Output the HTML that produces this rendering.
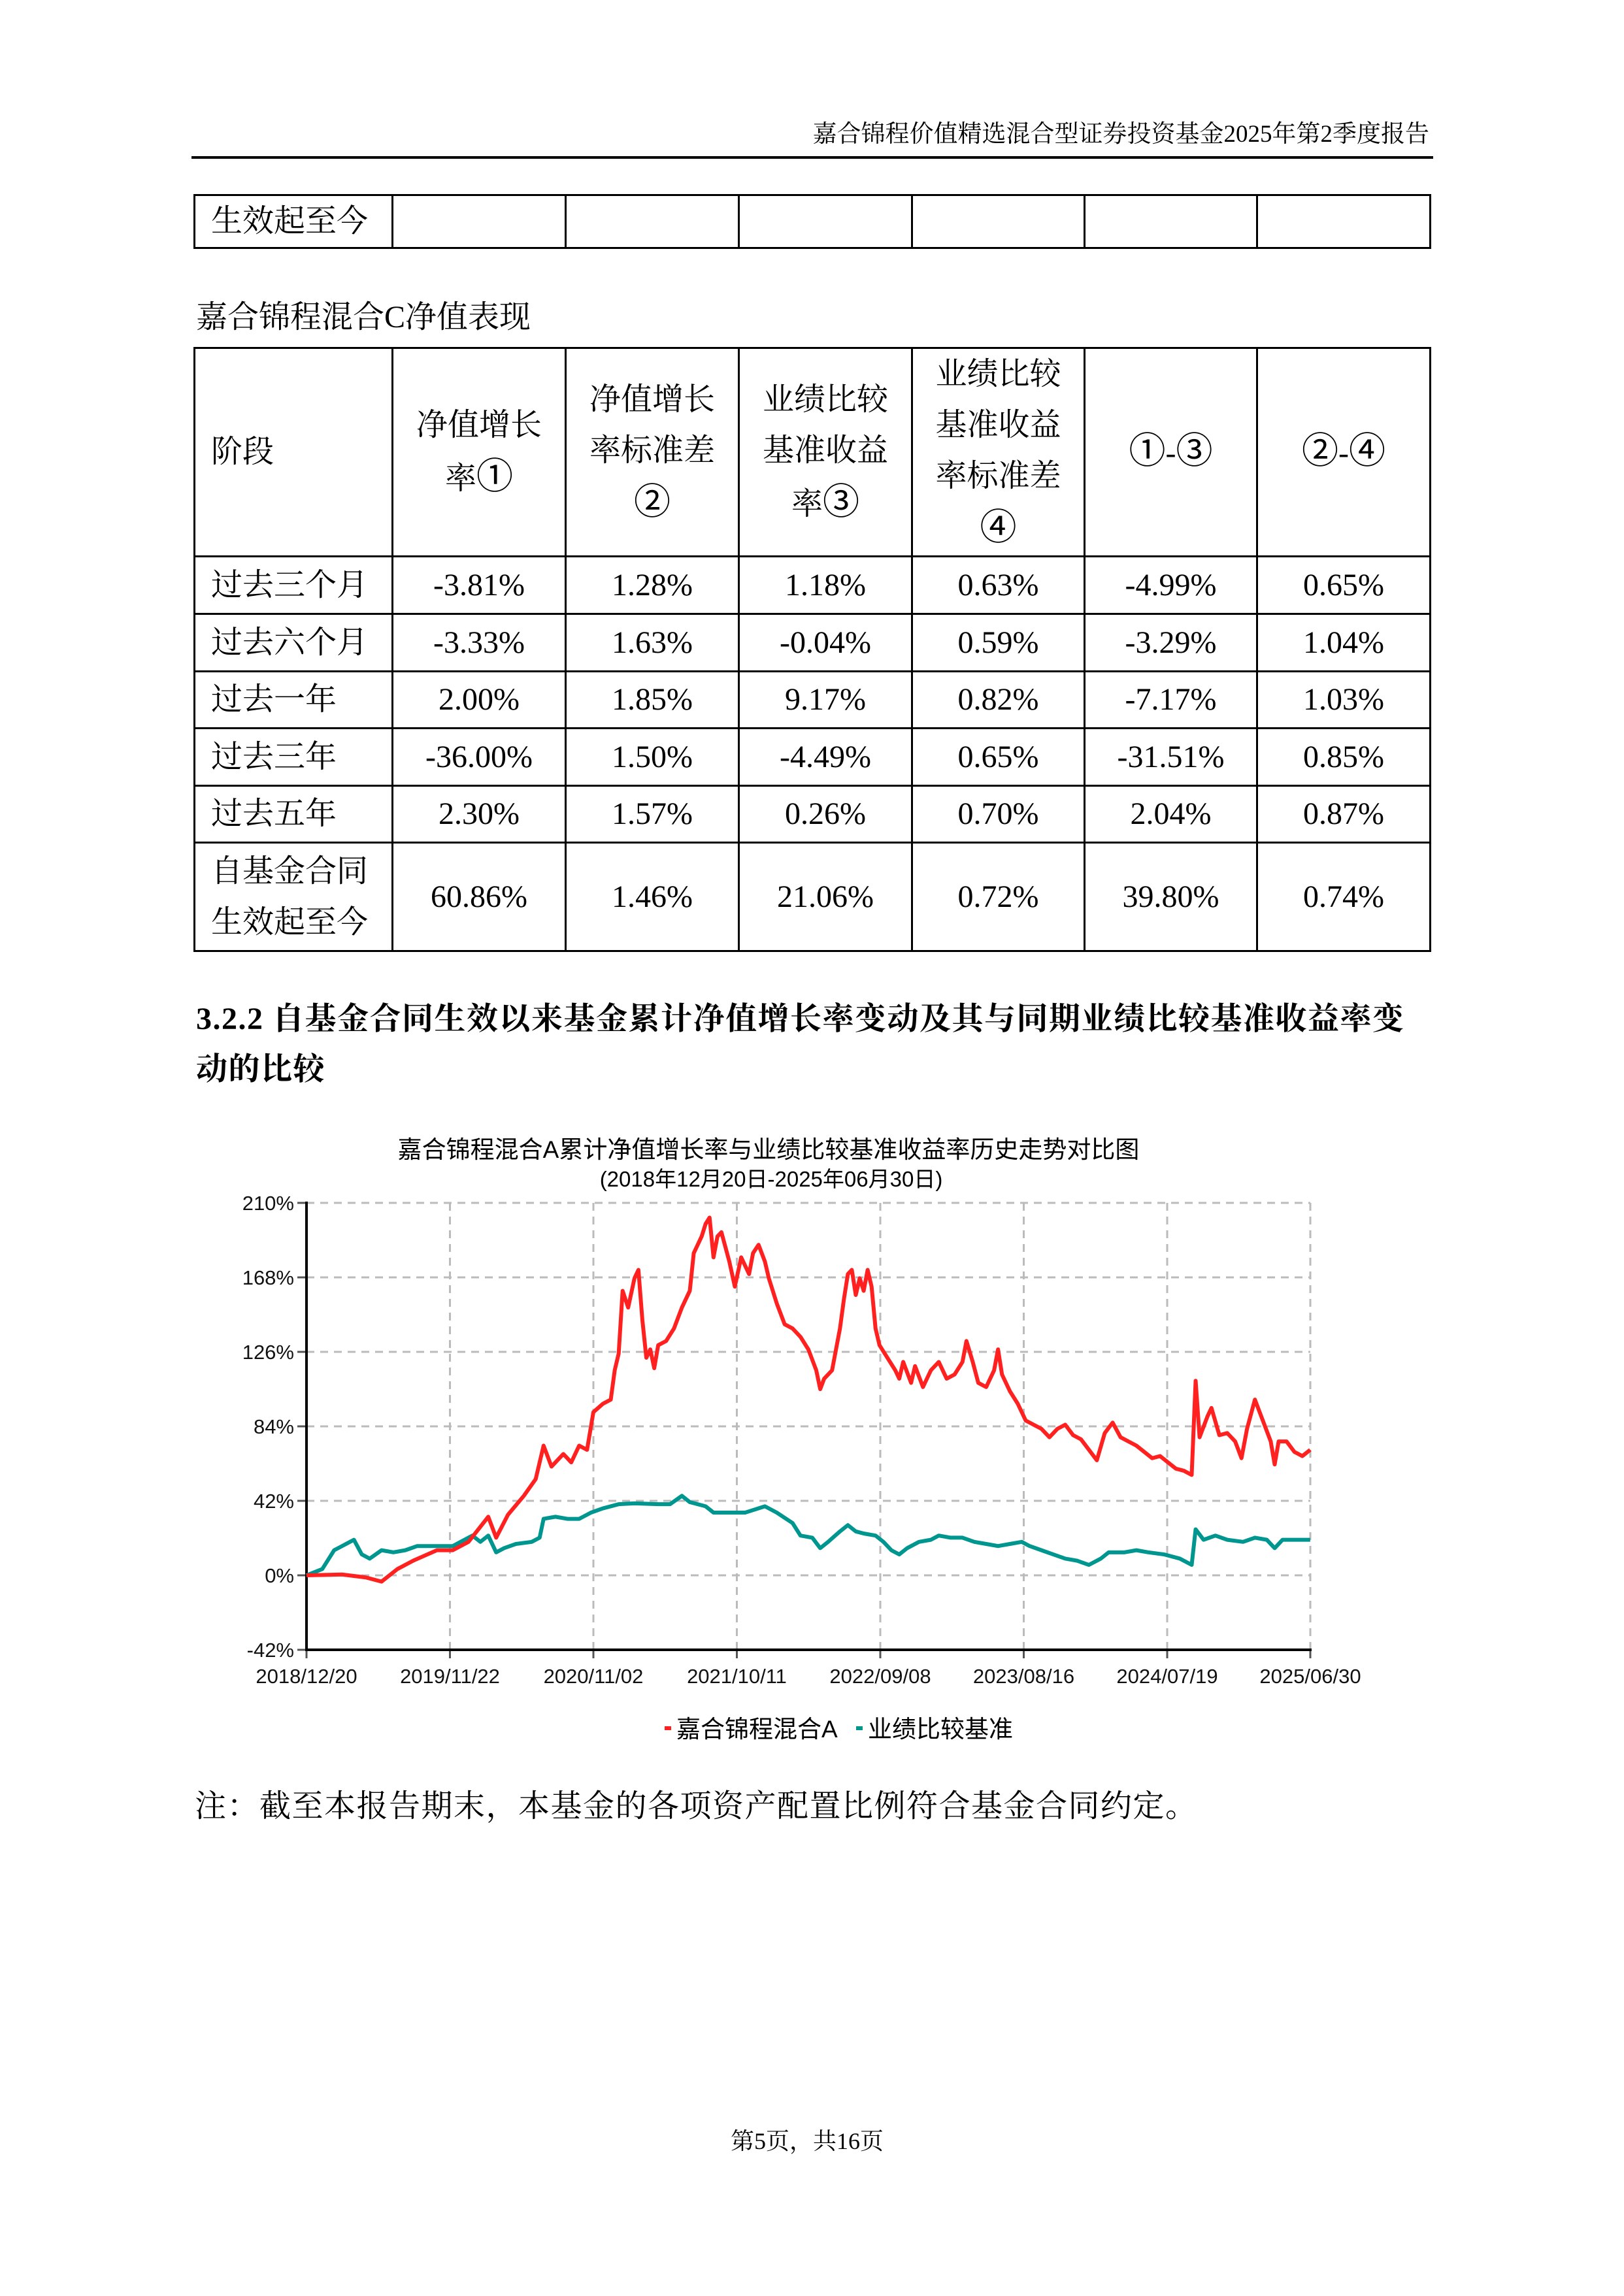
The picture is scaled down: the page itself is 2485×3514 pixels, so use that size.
<!DOCTYPE html>
<html><head><meta charset="utf-8">
<style>
html,body{margin:0;padding:0;background:#fff;}
body{width:2485px;height:3514px;position:relative;overflow:hidden;font-family:"Liberation Serif","Noto Serif CJK SC",serif;color:#000;}
.abs{position:absolute;white-space:nowrap;}
table{border-collapse:collapse;table-layout:fixed;position:absolute;font-size:48px;}
td{border:3px solid #000;padding:0;text-align:center;vertical-align:middle;line-height:78px;}
td.l{text-align:left;padding-left:24px;}
.c{font-family:"Noto Sans CJK SC",sans-serif;font-size:56px;line-height:70px;}
</style></head><body>
<div class="abs" style="right:298px;top:174px;font-size:37px;">嘉合锦程价值精选混合型证券投资基金2025年第2季度报告</div>
<div class="abs" style="left:293px;top:239px;width:1900px;height:4px;background:#000;"></div>

<table style="left:296px;top:297px;width:1891px;">
<colgroup><col style="width:303px"><col style="width:265px"><col style="width:265px"><col style="width:265px"><col style="width:264px"><col style="width:264px"><col style="width:265px"></colgroup>
<tr style="height:81px"><td class="l">生效起至今</td><td></td><td></td><td></td><td></td><td></td><td></td></tr>
</table>

<div class="abs" style="left:300px;top:446px;font-size:48px;">嘉合锦程混合C净值表现</div>

<table style="left:296px;top:531px;width:1891px;">
<colgroup><col style="width:303px"><col style="width:265px"><col style="width:265px"><col style="width:265px"><col style="width:264px"><col style="width:264px"><col style="width:265px"></colgroup>
<tr style="height:315px"><td class="l">阶段</td><td>净值增长<br>率<span class="c">①</span></td><td>净值增长<br>率标准差<br><span class="c">②</span></td><td>业绩比较<br>基准收益<br>率<span class="c">③</span></td><td>业绩比较<br>基准收益<br>率标准差<br><span class="c">④</span></td><td><span class="c">①</span>-<span class="c">③</span></td><td><span class="c">②</span>-<span class="c">④</span></td></tr>
<tr style="height:88px"><td class="l">过去三个月</td><td>-3.81%</td><td>1.28%</td><td>1.18%</td><td>0.63%</td><td>-4.99%</td><td>0.65%</td></tr>
<tr style="height:88px"><td class="l">过去六个月</td><td>-3.33%</td><td>1.63%</td><td>-0.04%</td><td>0.59%</td><td>-3.29%</td><td>1.04%</td></tr>
<tr style="height:87px"><td class="l">过去一年</td><td>2.00%</td><td>1.85%</td><td>9.17%</td><td>0.82%</td><td>-7.17%</td><td>1.03%</td></tr>
<tr style="height:88px"><td class="l">过去三年</td><td>-36.00%</td><td>1.50%</td><td>-4.49%</td><td>0.65%</td><td>-31.51%</td><td>0.85%</td></tr>
<tr style="height:87px"><td class="l">过去五年</td><td>2.30%</td><td>1.57%</td><td>0.26%</td><td>0.70%</td><td>2.04%</td><td>0.87%</td></tr>
<tr style="height:166px"><td class="l">自基金合同<br>生效起至今</td><td>60.86%</td><td>1.46%</td><td>21.06%</td><td>0.72%</td><td>39.80%</td><td>0.74%</td></tr>
</table>

<div class="abs" style="left:300px;top:1520px;font-size:48px;font-weight:bold;letter-spacing:1.5px;">3.2.2 自基金合同生效以来基金累计净值增长率变动及其与同期业绩比较基准收益率变</div>
<div class="abs" style="left:300px;top:1597px;font-size:48px;font-weight:bold;letter-spacing:1.5px;">动的比较</div>

<svg class="abs" style="left:0;top:0;" width="2485" height="3514" font-family="Liberation Sans, Noto Sans CJK SC, sans-serif">
<text x="1176" y="1772" font-size="37" text-anchor="middle">嘉合锦程混合A累计净值增长率与业绩比较基准收益率历史走势对比图</text>
<text x="1180" y="1816" font-size="33" text-anchor="middle">(2018年12月20日-2025年06月30日)</text>
<g stroke="#bbb" stroke-width="3" stroke-dasharray="12,9" fill="none">
<line x1="469" y1="1841" x2="2005" y2="1841"/>
<line x1="469" y1="1955" x2="2005" y2="1955"/>
<line x1="469" y1="2069" x2="2005" y2="2069"/>
<line x1="469" y1="2183" x2="2005" y2="2183"/>
<line x1="469" y1="2297" x2="2005" y2="2297"/>
<line x1="469" y1="2411" x2="2005" y2="2411"/>
<line x1="688.5" y1="1841" x2="688.5" y2="2525"/>
<line x1="908" y1="1841" x2="908" y2="2525"/>
<line x1="1127.5" y1="1841" x2="1127.5" y2="2525"/>
<line x1="1347" y1="1841" x2="1347" y2="2525"/>
<line x1="1566.5" y1="1841" x2="1566.5" y2="2525"/>
<line x1="1786" y1="1841" x2="1786" y2="2525"/>
<line x1="2005" y1="1841" x2="2005" y2="2525"/>
</g>
<g stroke="#555" stroke-width="3">
<line x1="455" y1="1841" x2="469" y2="1841"/><line x1="455" y1="1955" x2="469" y2="1955"/><line x1="455" y1="2069" x2="469" y2="2069"/><line x1="455" y1="2183" x2="469" y2="2183"/><line x1="455" y1="2297" x2="469" y2="2297"/><line x1="455" y1="2411" x2="469" y2="2411"/><line x1="455" y1="2525" x2="469" y2="2525"/>
<line x1="469" y1="2525" x2="469" y2="2538"/><line x1="688.5" y1="2525" x2="688.5" y2="2538"/><line x1="908" y1="2525" x2="908" y2="2538"/><line x1="1127.5" y1="2525" x2="1127.5" y2="2538"/><line x1="1347" y1="2525" x2="1347" y2="2538"/><line x1="1566.5" y1="2525" x2="1566.5" y2="2538"/><line x1="1786" y1="2525" x2="1786" y2="2538"/><line x1="2005" y1="2525" x2="2005" y2="2538"/>
</g>
<g stroke="#000" stroke-width="4"><line x1="469" y1="1839" x2="469" y2="2527"/><line x1="467" y1="2525" x2="2007" y2="2525"/></g>
<g font-size="31" text-anchor="end" fill="#111">
<text x="450" y="1852">210%</text><text x="450" y="1966">168%</text><text x="450" y="2080">126%</text><text x="450" y="2194">84%</text><text x="450" y="2308">42%</text><text x="450" y="2422">0%</text><text x="450" y="2536">-42%</text>
</g>
<g font-size="31" text-anchor="middle" fill="#111">
<text x="469" y="2576">2018/12/20</text><text x="688.5" y="2576">2019/11/22</text><text x="908" y="2576">2020/11/02</text><text x="1127.5" y="2576">2021/10/11</text><text x="1347" y="2576">2022/09/08</text><text x="1566.5" y="2576">2023/08/16</text><text x="1786" y="2576">2024/07/19</text><text x="2005" y="2576">2025/06/30</text>
</g>
<g transform="matrix(1.2094,0,0,0.6404,281.5,1700.2)" fill="none" stroke-linejoin="round">
<polyline vector-effect="non-scaling-stroke" stroke="#009690" stroke-width="6" points="155,1110 175,1095 190,1050 200,1040 210,1030 215,1025 225,1060 235,1070 250,1050 265,1055 280,1050 295,1040 320,1040 340,1040 350,1030 365,1015 375,1030 385,1015 395,1055 405,1045 420,1035 440,1030 450,1020 455,975 470,970 485,975 500,975 515,960 530,950 550,940 570,938 600,940 615,940 630,920 640,935 660,945 670,960 690,960 710,960 735,945 750,960 770,985 780,1015 795,1020 805,1045 815,1030 830,1005 840,990 850,1005 860,1010 875,1015 885,1030 895,1050 905,1060 915,1045 930,1030 945,1025 955,1015 970,1020 985,1020 1000,1030 1015,1035 1030,1040 1045,1035 1060,1030 1070,1040 1085,1050 1100,1060 1115,1070 1130,1075 1145,1085 1160,1070 1170,1055 1190,1055 1205,1050 1220,1055 1240,1060 1260,1070 1275,1085 1280,1000 1290,1025 1305,1015 1320,1025 1340,1030 1355,1020 1370,1025 1380,1045 1390,1025 1410,1025 1425,1025"/>
<polyline vector-effect="non-scaling-stroke" stroke="#ff2020" stroke-width="6" points="155,1110 200,1108 230,1115 250,1125 270,1095 290,1075 320,1050 340,1050 360,1030 385,970 395,1020 410,965 430,920 445,880 455,800 465,850 480,820 490,840 500,800 510,810 518,720 530,700 540,690 545,620 550,580 555,430 562,470 570,400 575,380 580,500 585,590 590,570 595,615 600,560 610,550 620,520 630,470 640,430 645,340 655,300 660,270 665,255 670,350 675,300 680,290 690,360 697,420 705,350 715,390 720,340 727,320 735,360 740,400 750,460 760,510 770,520 780,540 790,570 800,620 805,665 810,640 820,620 830,520 835,450 840,390 845,380 850,440 855,400 860,430 865,380 870,420 875,520 880,560 890,590 900,620 905,640 910,600 920,650 925,610 935,660 945,620 955,600 965,640 975,630 985,600 990,550 998,600 1005,650 1015,660 1025,620 1030,570 1035,630 1045,670 1055,700 1065,740 1075,750 1085,760 1095,780 1105,760 1115,750 1125,775 1135,785 1145,810 1155,835 1165,770 1175,745 1185,780 1195,790 1205,800 1215,815 1225,830 1235,825 1245,840 1255,855 1265,860 1275,870 1280,645 1285,780 1295,730 1300,710 1310,775 1320,770 1330,790 1338,830 1345,760 1355,690 1365,740 1375,790 1380,845 1385,790 1395,790 1405,815 1415,825 1425,810"/>
</g>
<rect x="1017" y="2642" width="10" height="6" fill="#ff2020"/>
<text x="1035" y="2659" font-size="37">嘉合锦程混合A</text>
<rect x="1310" y="2642" width="10" height="6" fill="#009690"/>
<text x="1328" y="2659" font-size="37">业绩比较基准</text>
</svg>

<div class="abs" style="left:298px;top:2725px;font-size:48px;letter-spacing:1.5px;">注：截至本报告期末，本基金的各项资产配置比例符合基金合同约定。</div>
<div class="abs" style="left:1118px;top:3249px;font-size:36px;">第5页，共16页</div>
</body></html>
